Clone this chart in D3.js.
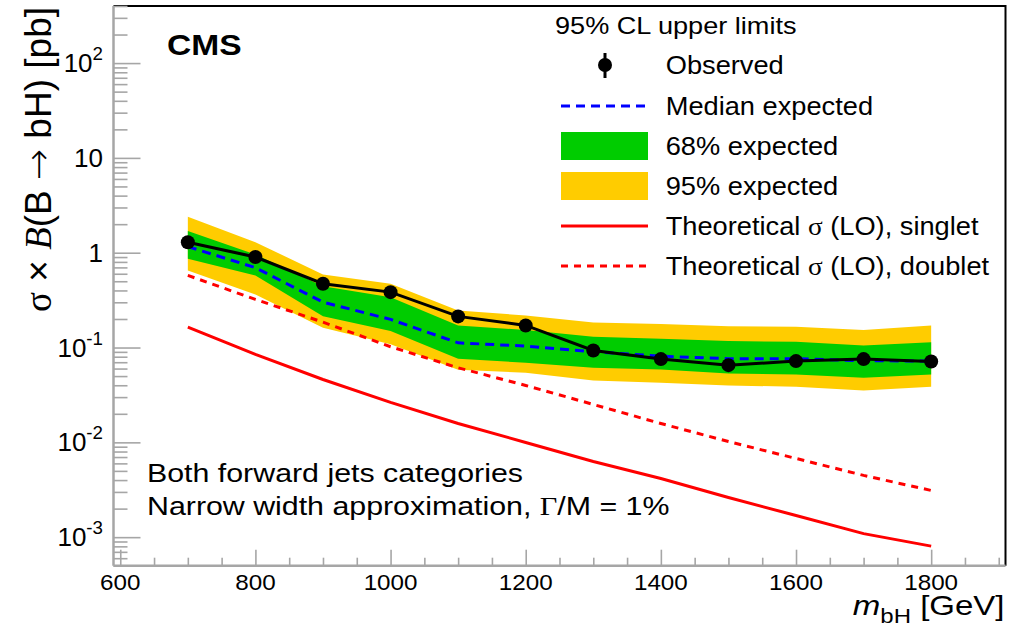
<!DOCTYPE html>
<html>
<head>
<meta charset="utf-8">
<script src="https://cdn.jsdelivr.net/npm/d3@7"></script>
<style>
  html, body { margin: 0; padding: 0; background: #fff; }
  svg text { font-family: "Liberation Sans", Arial, Helvetica, sans-serif; fill: #000; }
</style>
</head>
<body>
<svg id="chart" width="1014" height="626"></svg>
<script>
// Resonance mass points (GeV)
const massPoints = [700, 800, 900, 1000, 1100, 1200, 1300, 1400, 1500, 1600, 1700, 1800];

// 95% CL upper limits on sigma x B(B -> bH) [pb]
const observed       = [1.29, 0.90, 0.471, 0.384, 0.213, 0.171, 0.0932, 0.0755, 0.0652, 0.0719, 0.0755, 0.0713];
const expectedMedian = [1.16, 0.695, 0.301, 0.198, 0.112, 0.1035, 0.0903, 0.081, 0.0762, 0.0762, 0.0726, 0.0719];
const band68Up       = [1.69, 0.96, 0.444, 0.340, 0.171, 0.153, 0.130, 0.124, 0.117, 0.115, 0.105, 0.114];
const band68Down     = [0.865, 0.576, 0.214, 0.149, 0.0762, 0.0691, 0.0612, 0.0587, 0.0533, 0.052, 0.048, 0.052];
const band95Up       = [2.40, 1.29, 0.590, 0.471, 0.246, 0.218, 0.184, 0.177, 0.168, 0.166, 0.153, 0.171];
const band95Down     = [0.650, 0.363, 0.162, 0.108, 0.0583, 0.0542, 0.045, 0.0425, 0.0398, 0.0386, 0.0353, 0.0386];

// LO theory cross sections
const theorySinglet  = [0.164, 0.0846, 0.046, 0.0264, 0.0158, 0.00997, 0.00629, 0.00416, 0.00262, 0.00169, 0.00109, 0.000804];
const theoryDoublet  = [0.576, 0.322, 0.185, 0.102, 0.0612, 0.0398, 0.0251, 0.0158, 0.0102, 0.00676, 0.00448, 0.00311];

// Axis ticks
const xMajorTicks = [600, 800, 1000, 1200, 1400, 1600, 1800];
const xMinorTicks = d3.range(600, 1901, 50).filter(v => !xMajorTicks.includes(v));
const yDecades = [1e-3, 1e-2, 1e-1, 1, 10, 100];
const yDecadeLabels = [["10", "-3"], ["10", "-2"], ["10", "-1"], ["1", ""], ["10", ""], ["10", "2"]];

const legendTitle = "95% CL upper limits";
const legendLabels = ["Observed", "Median expected", "68% expected", "95% expected",
  "Theoretical σ (LO), singlet", "Theoretical σ (LO), doublet"];

const colors = { green: "#00cc00", yellow: "#ffcc00", blue: "#0000ff", red: "#ff0000", axis: "#a6a6a6" };

const frame = { left: 113.5, right: 1005.5, top: 6, bottom: 565.7 };

const svg = d3.select("#chart");

const x = d3.scaleLinear().domain([590, 1910]).range([frame.left, frame.right]);
const y = d3.scaleLog().domain([5e-4, 400]).range([frame.bottom, frame.top]);

// Text helper with optional horizontal stretch
function addText(parent, px, py, opts) {
  const t = parent.append("text")
    .attr("transform", `translate(${px},${py})` + (opts.rotate ? ` rotate(${opts.rotate})` : "") + ` scale(${opts.sx || 1},1)`)
    .attr("font-size", opts.size)
    .attr("text-anchor", opts.anchor || "start");
  if (opts.weight) t.attr("font-weight", opts.weight);
  if (opts.text !== undefined) t.text(opts.text);
  return t;
}

// Plot area clip
svg.append("clipPath").attr("id", "plotClip")
  .append("rect").attr("x", frame.left).attr("y", frame.top)
  .attr("width", frame.right - frame.left).attr("height", frame.bottom - frame.top);

const plot = svg.append("g").attr("clip-path", "url(#plotClip)");

function bandArea(up, down) {
  return d3.area()
    .x((d, i) => x(massPoints[i]))
    .y0((d, i) => y(down[i]))
    .y1((d, i) => y(up[i]))(massPoints);
}

plot.append("path").attr("d", bandArea(band95Up, band95Down)).attr("fill", colors.yellow);
plot.append("path").attr("d", bandArea(band68Up, band68Down)).attr("fill", colors.green);

const line = vals => d3.line().x((d, i) => x(massPoints[i])).y((d, i) => y(vals[i]))(massPoints);

plot.append("path").attr("d", line(theorySinglet)).attr("fill", "none")
  .attr("stroke", colors.red).attr("stroke-width", 3);
plot.append("path").attr("d", line(theoryDoublet)).attr("fill", "none")
  .attr("stroke", colors.red).attr("stroke-width", 3).attr("stroke-dasharray", "7,6");
plot.append("path").attr("d", line(expectedMedian)).attr("fill", "none")
  .attr("stroke", colors.blue).attr("stroke-width", 3).attr("stroke-dasharray", "9,6");
plot.append("path").attr("d", line(observed)).attr("fill", "none")
  .attr("stroke", "#000").attr("stroke-width", 3);
plot.selectAll("circle.obs").data(observed).join("circle")
  .attr("class", "obs")
  .attr("cx", (d, i) => x(massPoints[i])).attr("cy", d => y(d)).attr("r", 7)
  .attr("fill", "#000");

// Frame: black top and right edges
svg.append("path")
  .attr("d", `M${frame.left},${frame.top}H${frame.right}V${frame.bottom}`)
  .attr("fill", "none").attr("stroke", "#000").attr("stroke-width", 2);

// X axis
const xAxisG = svg.append("g").attr("transform", `translate(0,${frame.bottom})`);
xAxisG.call(d3.axisTop(x).tickValues(xMajorTicks).tickSize(16).tickFormat(""));
xAxisG.append("g").call(d3.axisTop(x).tickValues(xMinorTicks).tickSize(8).tickFormat(""));
xAxisG.selectAll(".domain").remove();
xAxisG.selectAll("line").attr("stroke", colors.axis).attr("stroke-width", 1.6);
svg.append("line").attr("x1", frame.left).attr("x2", frame.right)
  .attr("y1", frame.bottom).attr("y2", frame.bottom)
  .attr("stroke", colors.axis).attr("stroke-width", 2.5);
xMajorTicks.forEach(v => addText(svg, x(v), 590, { size: 22, sx: 1.1, anchor: "middle", text: v }));

// Y axis (log)
const yMinor = [];
for (let e = -4; e <= 2; e++) {
  for (let m = 2; m <= 9; m++) {
    const v = m * Math.pow(10, e);
    if (v >= 5e-4 && v <= 400) yMinor.push(v);
  }
}
const yAxisG = svg.append("g").attr("transform", `translate(${frame.left},0)`);
yAxisG.call(d3.axisRight(y).tickValues(yDecades).tickSize(27).tickFormat(""));
yAxisG.append("g").call(d3.axisRight(y).tickValues(yMinor).tickSize(14).tickFormat(""));
yAxisG.selectAll(".domain").remove();
yAxisG.selectAll("line").attr("stroke", colors.axis).attr("stroke-width", 1.6);
svg.append("line").attr("x1", frame.left).attr("x2", frame.left)
  .attr("y1", frame.top).attr("y2", frame.bottom)
  .attr("stroke", colors.axis).attr("stroke-width", 2.5);

yDecades.forEach((v, i) => {
  const [base, exp] = yDecadeLabels[i];
  const t = addText(svg, 103, y(v) + 9, { size: 25, sx: 1.04, anchor: "end" });
  t.append("tspan").text(base);
  if (exp) t.append("tspan").attr("font-size", 18).attr("dy", -12).text(exp);
});

// Axis titles
const yTitle = addText(svg, 51, 7, { size: 37, rotate: -90, anchor: "end" });
yTitle.append("tspan").attr("font-family", "'Liberation Serif', serif").text("σ");
yTitle.append("tspan").text(" × ");
yTitle.append("tspan").attr("font-family", "'Liberation Serif', serif").attr("font-style", "italic").text("B");
yTitle.append("tspan").text("(B ");
yTitle.append("tspan").attr("font-family", "'DejaVu Sans', sans-serif").attr("font-weight", 200).text("→");
yTitle.append("tspan").text(" bH) [pb]");

const xTitle = addText(svg, frame.right - 1, 615, { size: 27.5, sx: 1.2, anchor: "end" });
xTitle.append("tspan").attr("font-style", "italic").text("m");
xTitle.append("tspan").attr("font-size", 20).attr("dy", 8).text("bH");
xTitle.append("tspan").attr("dy", -8).text(" [GeV]");

// Annotations
addText(svg, 167, 55, { size: 30, sx: 1.12, weight: "bold", text: "CMS" });
addText(svg, 147, 482, { size: 25.5, sx: 1.19, text: "Both forward jets categories" });
const note2 = addText(svg, 147, 515, { size: 25.5, sx: 1.19 });
note2.append("tspan").text("Narrow width approximation, ");
note2.append("tspan").attr("font-family", "'Liberation Serif', serif").text("Γ");
note2.append("tspan").text("/M = 1%");

// Legend
const leg = svg.append("g");
addText(leg, 555, 34.3, { size: 24, sx: 1.13, text: legendTitle });
const rowY = [65, 106, 146, 186, 226, 266];
const symX0 = 561, symX1 = 648, textX = 665.7;

legendLabels.forEach((lab, i) => {
  const t = addText(leg, textX, rowY[i] + 9, { size: 25, sx: 1.09 });
  if (lab.includes("σ")) {
    const [a, b] = lab.split("σ");
    t.append("tspan").text(a);
    t.append("tspan").attr("font-family", "'Liberation Serif', serif").text("σ");
    t.append("tspan").text(b);
  } else {
    t.text(lab);
  }
});

// Observed marker
leg.append("line").attr("x1", 605).attr("x2", 605).attr("y1", rowY[0] - 12).attr("y2", rowY[0] + 13)
  .attr("stroke", "#000").attr("stroke-width", 3);
leg.append("circle").attr("cx", 605).attr("cy", rowY[0]).attr("r", 7).attr("fill", "#000");
// Median expected
leg.append("line").attr("x1", symX0).attr("x2", symX1).attr("y1", rowY[1]).attr("y2", rowY[1])
  .attr("stroke", colors.blue).attr("stroke-width", 3).attr("stroke-dasharray", "9,6");
// Bands
leg.append("rect").attr("x", symX0).attr("y", rowY[2] - 14).attr("width", symX1 - symX0).attr("height", 28)
  .attr("fill", colors.green);
leg.append("rect").attr("x", symX0).attr("y", rowY[3] - 14).attr("width", symX1 - symX0).attr("height", 28)
  .attr("fill", colors.yellow);
// Theory lines
leg.append("line").attr("x1", symX0).attr("x2", symX1).attr("y1", rowY[4]).attr("y2", rowY[4])
  .attr("stroke", colors.red).attr("stroke-width", 3);
leg.append("line").attr("x1", symX0).attr("x2", symX1).attr("y1", rowY[5]).attr("y2", rowY[5])
  .attr("stroke", colors.red).attr("stroke-width", 3).attr("stroke-dasharray", "7,6");
</script>
</body>
</html>
